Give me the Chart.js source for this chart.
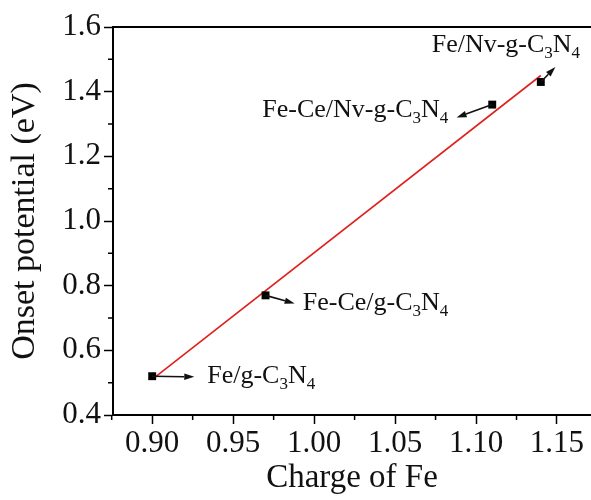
<!DOCTYPE html>
<html>
<head>
<meta charset="utf-8">
<script src="https://cdn.jsdelivr.net/npm/chart.js@4"></script>
<style>
  html, body { margin: 0; padding: 0; background: #fff; }
  #wrap { width: 591px; height: 500px; }
</style>
</head>
<body>
<div id="wrap"><canvas id="onsetChart" width="591" height="500"></canvas></div>
<script>
// charge of Fe vs onset potential
const chargeFe = [0.90, 0.97, 1.11, 1.14];
const onsetPotential = [0.52, 0.77, 1.36, 1.43];
const sampleNames = ["Fe/g-C3N4", "Fe-Ce/g-C3N4", "Fe-Ce/Nv-g-C3N4", "Fe/Nv-g-C3N4"];

// linear fit, end points
const fitCharge = [0.90, 1.14];
const fitPotential = [0.51, 1.45];

const xTicks = [0.90, 0.95, 1.00, 1.05, 1.10, 1.15];
const xMinor = [0.875, 0.925, 0.975, 1.025, 1.075, 1.125];
const yTicks = [0.4, 0.6, 0.8, 1.0, 1.2, 1.4, 1.6];
const yMinor = [0.5, 0.7, 0.9, 1.1, 1.3, 1.5];

// where each label sits (left/baseline) and where its arrow points, in axis units
const labelSpots = [
    { at: [0.934, 0.50], tip: [0.926, 0.518] },
    { at: [0.993, 0.725], tip: [0.988, 0.745] },
    { at: [0.968, 1.321], tip: [1.088, 1.32] },
    { at: [1.0726, 1.522], tip: [1.149, 1.476] },
];

const serif = "'Liberation Serif', 'Times New Roman', serif";
const ink = "#111";

function drawArrow(ctx, x0, y0, x1, y1) {
    const ang = Math.atan2(y1 - y0, x1 - x0);
    const head = 10, half = 3.2;
    const bx = x1 - head * Math.cos(ang), by = y1 - head * Math.sin(ang);
    ctx.beginPath();
    ctx.moveTo(x0, y0);
    ctx.lineTo(bx, by);
    ctx.lineWidth = 1.6;
    ctx.strokeStyle = ink;
    ctx.stroke();
    ctx.beginPath();
    ctx.moveTo(x1, y1);
    ctx.lineTo(bx - half * Math.sin(ang), by + half * Math.cos(ang));
    ctx.lineTo(bx + half * Math.sin(ang), by - half * Math.cos(ang));
    ctx.closePath();
    ctx.fillStyle = ink;
    ctx.fill();
}

// digits in the formulas are subscripts
function drawFormula(ctx, text, x, y) {
    ctx.textBaseline = "alphabetic";
    ctx.textAlign = "left";
    ctx.fillStyle = ink;
    for (const part of text.split(/(\d)/)) {
        if (!part) continue;
        const sub = /^\d$/.test(part);
        ctx.font = (sub ? "17px " : "26px ") + serif;
        ctx.fillText(part, x, sub ? y + 6 : y);
        x += ctx.measureText(part).width;
    }
}

const decorations = {
    id: "decorations",
    afterDatasetsDraw(chart) {
        const { ctx, chartArea, scales } = chart;
        const sx = scales.x, sy = scales.y;
        ctx.save();
        // top frame line
        ctx.beginPath();
        ctx.moveTo(chartArea.left - 1, chartArea.top);
        ctx.lineTo(chartArea.right, chartArea.top);
        ctx.lineWidth = 2;
        ctx.strokeStyle = "#000";
        ctx.stroke();
        // minor ticks
        ctx.lineWidth = 1.5;
        ctx.beginPath();
        xMinor.forEach((v) => {
            const px = sx.getPixelForValue(v);
            ctx.moveTo(px, chartArea.bottom);
            ctx.lineTo(px, chartArea.bottom + 5);
        });
        yMinor.forEach((v) => {
            const py = sy.getPixelForValue(v);
            ctx.moveTo(chartArea.left, py);
            ctx.lineTo(chartArea.left - 5, py);
        });
        ctx.stroke();
        // labels with arrows
        labelSpots.forEach((s, i) => {
            const mx = sx.getPixelForValue(chargeFe[i]);
            const my = sy.getPixelForValue(onsetPotential[i]);
            drawArrow(ctx, mx, my, sx.getPixelForValue(s.tip[0]), sy.getPixelForValue(s.tip[1]));
            drawFormula(ctx, sampleNames[i], sx.getPixelForValue(s.at[0]), sy.getPixelForValue(s.at[1]));
        });
        ctx.restore();
    },
};

const ctx = document.getElementById("onsetChart").getContext("2d");
const chart = new Chart(ctx, {
    type: "scatter",
    data: {
        datasets: [
            {
                label: "Onset potential",
                data: chargeFe.map((x, i) => ({ x: x, y: onsetPotential[i] })),
                pointStyle: "rect",
                pointRadius: 5.6,
                backgroundColor: "#000",
                borderColor: "#000",
                borderWidth: 0,
            },
            {
                label: "Linear fit",
                data: fitCharge.map((x, i) => ({ x: x, y: fitPotential[i] })),
                showLine: true,
                pointRadius: 0,
                borderColor: "#e0201c",
                borderWidth: 1.6,
            },
        ],
    },
    options: {
        responsive: false,
        animation: false,
        layout: { autoPadding: false, padding: { top: 27, right: 0, left: 0, bottom: 0 } },
        plugins: {
            legend: { display: false },
            tooltip: { enabled: false },
        },
        scales: {
            x: {
                type: "linear",
                min: 0.8758,
                max: 1.171,
                afterBuildTicks: (scale) => {
                    scale.ticks = xTicks.map((v) => ({ value: v }));
                },
                afterFit: (scale) => {
                    scale.height = 85;
                    scale.paddingRight = 0;
                    scale.paddingLeft = 0;
                },
                ticks: {
                    callback: (v) => v.toFixed(2),
                    font: { family: serif, size: 31 },
                    color: ink,
                    padding: 1,
                    maxRotation: 0,
                },
                grid: {
                    drawOnChartArea: false,
                    drawTicks: true,
                    tickLength: 9,
                    tickWidth: 1.5,
                    tickColor: "#000",
                },
                border: { color: "#000", width: 2 },
                title: {
                    display: true,
                    text: "Charge of Fe",
                    font: { family: serif, size: 33 },
                    color: ink,
                    padding: { top: 0, bottom: 2 },
                },
            },
            y: {
                type: "linear",
                min: 0.4,
                max: 1.6,
                afterBuildTicks: (scale) => {
                    scale.ticks = yTicks.map((v) => ({ value: v }));
                },
                afterFit: (scale) => {
                    scale.width = 113;
                },
                ticks: {
                    callback: (v) => v.toFixed(1),
                    font: { family: serif, size: 31 },
                    color: ink,
                    padding: 3,
                },
                grid: {
                    drawOnChartArea: false,
                    drawTicks: true,
                    tickLength: 9,
                    tickWidth: 1.5,
                    tickColor: "#000",
                },
                border: { color: "#000", width: 2 },
                title: {
                    display: true,
                    text: "Onset potential (eV)",
                    font: { family: serif, size: 34 },
                    color: ink,
                    padding: { top: 5, bottom: 0 },
                },
            },
        },
    },
    plugins: [decorations],
});
</script>
</body>
</html>
